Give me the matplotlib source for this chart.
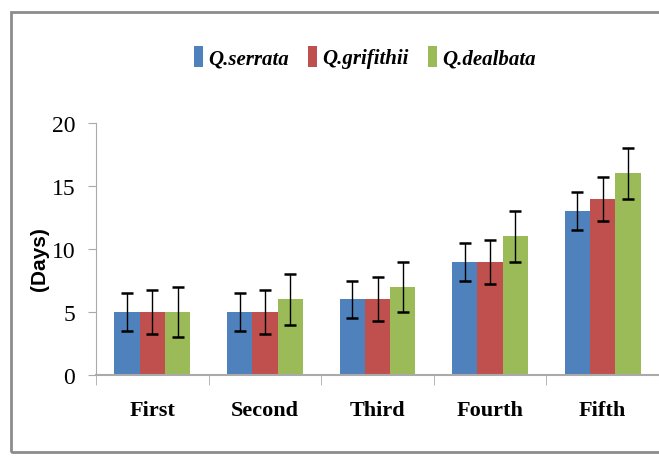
import numpy as np
from matplotlib import pyplot as plt
from matplotlib.patches import Rectangle

groups = ['First', 'Second', 'Third', 'Fourth', 'Fifth']
series = ['Q.serrata', 'Q.grifithii', 'Q.dealbata']
serrata = [5, 5, 6, 9, 13]
grifithii = [5, 5, 6, 9, 14]
dealbata = [5, 6, 7, 11, 16]
err_serrata = [1.5, 1.5, 1.5, 1.5, 1.5]
err_grifithii = [1.75, 1.75, 1.75, 1.75, 1.75]
err_dealbata = [2, 2, 2, 2, 2]
colors = ['#4F81BD', '#C0504D', '#9BBB59']

fig = plt.figure(figsize=(6.59, 4.60), dpi=100)
ax = fig.add_axes([96/659, 84/460, 1 - 96/659, (336 - 84)/460])

x = np.arange(len(groups))
w = 0.224
vals = [serrata, grifithii, dealbata]
errs = [err_serrata, err_grifithii, err_dealbata]
for i in range(3):
    ax.bar(x + (i - 1) * w, vals[i], w, color=colors[i], label=series[i],
           yerr=errs[i], capsize=4,
           error_kw=dict(ecolor='black', elinewidth=1, capthick=1.8))

ax.set_xlim(-0.5, -0.5 + 563/115)
ax.set_ylim(0, 20)
ax.set_yticks([0, 5, 10, 15, 20])
ax.set_yticklabels(['0', '5', '10', '15', '20'], fontfamily='Liberation Serif', fontsize=17)
ax.set_xticks(x)
ax.set_xticklabels(groups, fontfamily='Liberation Serif', fontsize=16, fontweight='bold')
ax.set_xticks(np.arange(-0.5, 5, 1), minor=True)
ax.tick_params(axis='x', which='major', length=0, pad=18)
ax.tick_params(axis='x', which='minor', length=7, color='#aaaaaa')
ax.tick_params(axis='y', length=6, color='#aaaaaa', pad=9)
for s in ['top', 'right']:
    ax.spines[s].set_visible(False)
ax.spines['left'].set_color('#aaaaaa')
ax.spines['bottom'].set_color('#aaaaaa')
ax.spines['bottom'].set_linewidth(1.5)

fig.text(39/659, 1 - 259/460, '(Days)', rotation=90, ha='center', va='center',
         fontfamily='Liberation Sans', fontweight='bold', fontsize=15)

leg = fig.legend(loc='center', bbox_to_anchor=(365/659, 1 - 58/460), ncol=3, frameon=False,
                 handlelength=0.45, handleheight=1.2, handletextpad=0.25, columnspacing=0.9,
                 prop={'family': 'Liberation Serif', 'style': 'italic', 'weight': 'bold', 'size': 15})

fig.patches.append(Rectangle((11/659, 1 - 453/460), 1.0, (453 - 13)/460, transform=fig.transFigure,
                             fill=False, edgecolor='#8c8c8c', linewidth=2))

plt.savefig('out.png', dpi=100)
plt.close('all')
